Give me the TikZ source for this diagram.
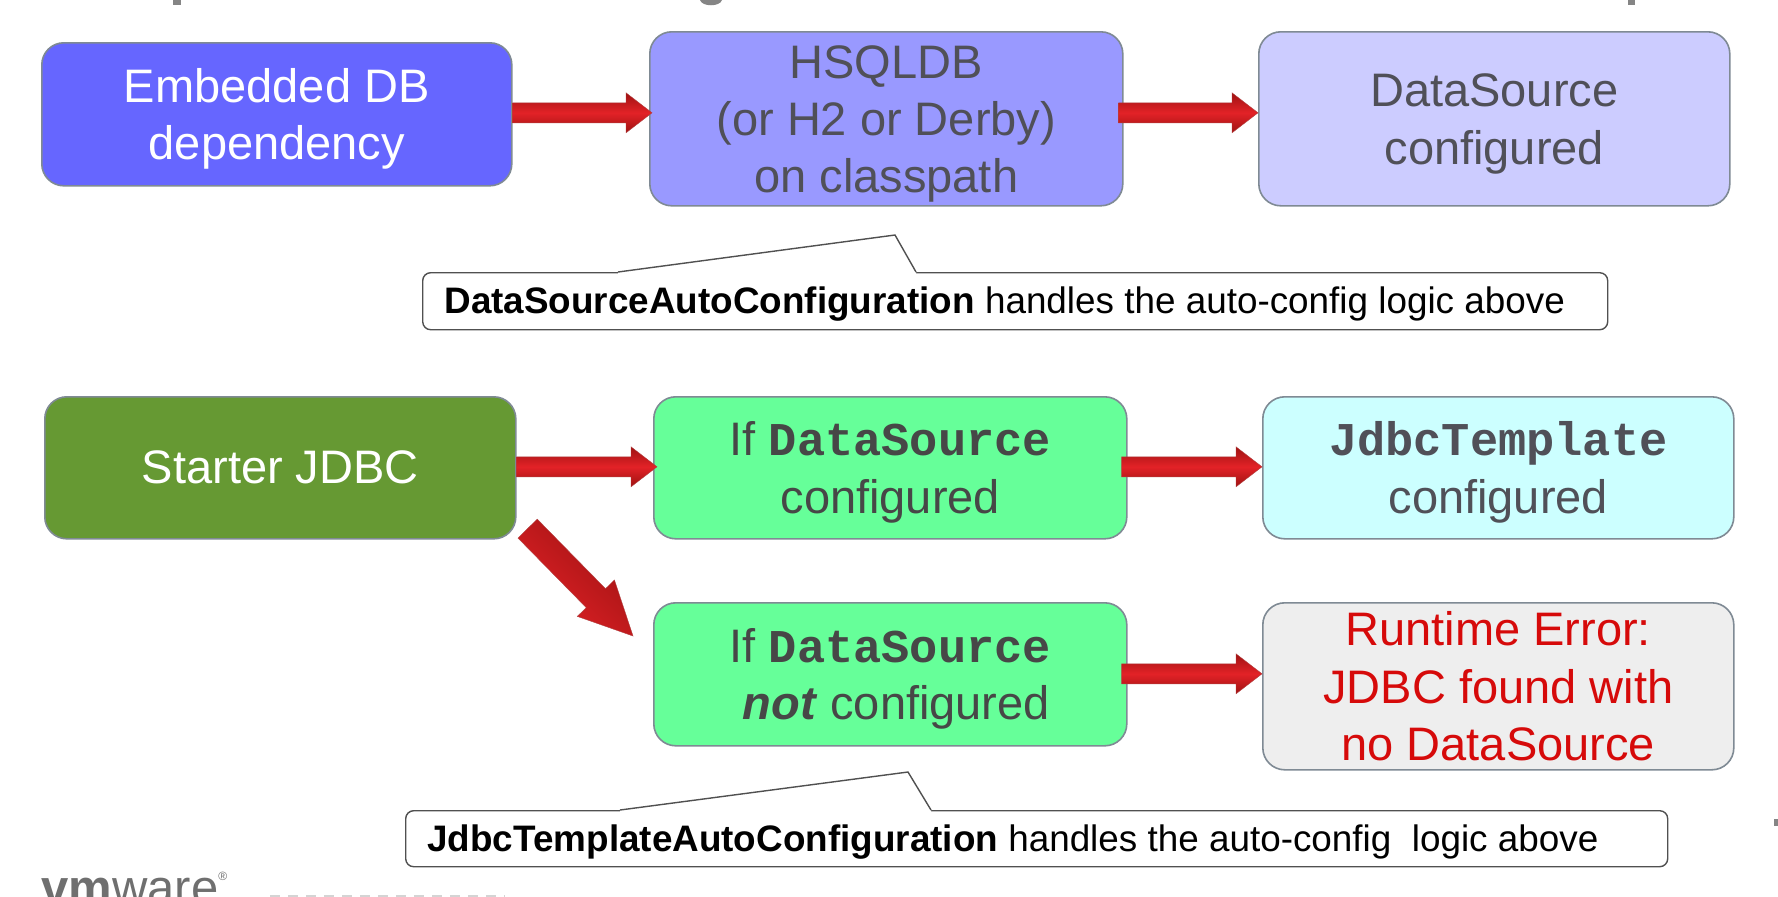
\documentclass[tikz,border=0pt]{standalone}
\usepackage{fontspec}
\setmainfont{Liberation Sans}
\newfontfamily\codefont{Liberation Mono}[BoldFont={Liberation Mono Bold}]
\usetikzlibrary{calc}
\definecolor{boxline}{HTML}{7F8A94}
\definecolor{boxtext}{HTML}{505058}
\definecolor{cA}{HTML}{6666FF}
\definecolor{cB}{HTML}{9999FF}
\definecolor{cC}{HTML}{CCCCFF}
\definecolor{cD}{HTML}{669933}
\definecolor{cE}{HTML}{66FF99}
\definecolor{cF}{HTML}{CCFFFF}
\definecolor{cH}{HTML}{EEEEEE}
\definecolor{errred}{HTML}{D60A0A}
\definecolor{arrowhi}{HTML}{E32227}
\definecolor{arrowlo}{HTML}{9E1212}
\definecolor{logogray}{HTML}{6F6F6F}
\definecolor{calloutline}{HTML}{505050}
\newcommand{\code}[1]{{\codefont\bfseries #1}}
\newcommand{\lowerline}{\rule{0pt}{21.5pt}}
% arrow from #2 to #3, half body #4, half head #5, head length #6, style #1
\newcommand{\redarrow}[6][]{%
  \coordinate (ra) at #2; \coordinate (rb) at #3;
  \coordinate (rh) at ($(rb)!#6*0.5pt!(ra)$);
  \path[#1] ($(ra)!#4*0.5pt!90:(rb)$) -- ($(rh)!#4*0.5pt!90:(rb)$) -- ($(rh)!#5*0.5pt!90:(rb)$)
    -- (rb) -- ($(rh)!#5*0.5pt!-90:(rb)$) -- ($(rh)!#4*0.5pt!-90:(rb)$) -- ($(ra)!#4*0.5pt!-90:(rb)$) -- cycle;}
\tikzset{
  x=0.5pt,y=-0.5pt,
  flowbox/.style={draw=boxline,line width=0.8pt,rounded corners=11pt,inner sep=0pt,align=center,
    text=boxtext,font=\fontsize{23.5}{28.6}\selectfont,anchor=north west},
  calloutbox/.style={draw=calloutline,line width=0.7pt,rounded corners=4pt,fill=white,inner sep=0pt,
    anchor=north west,text=black},
  calloutlabel/.style={font=\fontsize{18.43}{22}\selectfont,anchor=base west,inner sep=0pt,text=black},
  calloutedge/.style={draw=calloutline,line width=0.7pt,line join=miter},
  hshade/.style={line width=0.2pt,draw=arrowlo!80!white,top color=arrowlo,bottom color=arrowlo,middle color=arrowhi},
  dshade/.style={line width=0.2pt,draw=arrowlo!80!white,left color=arrowlo,right color=arrowhi,shading angle=-45},
  fragment/.style={fill=logogray!85},
}
\begin{document}
\begin{tikzpicture}
\useasboundingbox (0,0) rectangle (1778,896);
\begin{scope}
\clip (0,0) rectangle (1778,896);
\fill[white] (0,0) rectangle (1778,896);

% boxes (minimum sizes in 0.5pt units)
\node[flowbox,fill=cA,text=white,minimum width=235pt,minimum height=71.5pt] (a) at (41,42) {\lowerline Embedded DB\\dependency};
\node[flowbox,fill=cB,minimum width=236.5pt,minimum height=87pt] (b) at (649,31) {\lowerline HSQLDB\\(or H2 or Derby)\\on classpath};
\node[flowbox,fill=cC,minimum width=235.5pt,minimum height=87pt] (c) at (1258,31) {\lowerline DataSource\\configured};

\node[flowbox,fill=cD,text=white,minimum width=235.5pt,minimum height=71pt] (d) at (44,396) {Starter JDBC};
\node[flowbox,fill=cE,text=black!72,minimum width=236.5pt,minimum height=71pt] (e) at (653,396) {\lowerline If \code{DataSource}\\configured};
\node[flowbox,fill=cF,minimum width=235.5pt,minimum height=71pt] (f) at (1262,396) {\lowerline\code{JdbcTemplate}\\configured};
\node[flowbox,fill=cE,text=black!72,minimum width=236.5pt,minimum height=71.5pt] (g) at (653,602) {\lowerline If \code{DataSource}\\\hspace*{6pt}\textbf{\textit{not}} configured};
\node[flowbox,fill=cH,text=errred,minimum width=235.5pt,minimum height=83.5pt] (h) at (1262,602) {Runtime Error:\\JDBC found with\\no DataSource};

% callouts
\node[calloutbox,minimum width=592.5pt,minimum height=28.5pt] (c1) at (422,272) {};
\coordinate (c1l) at ($(c1.north west)+(196,0)$);
\coordinate (c1r) at ($(c1.north west)+(494,0)$);
\coordinate (c1a) at ($(c1.north west)+(473,-37)$);
\fill[white] (c1l) -- (c1a) -- (c1r) -- ($(c1r)+(0,2)$) -- ($(c1l)+(0,2)$) -- cycle;
\draw[calloutedge] (c1l) -- (c1a) -- (c1r);
\node[calloutlabel] (c1t) at ($(c1.north west)+(22,41)$) {\textbf{DataSourceAutoConfiguration} handles the auto-config logic above};

\node[calloutbox,minimum width=631pt,minimum height=28pt] (c2) at (405,810) {};
\coordinate (c2l) at ($(c2.north west)+(215,0)$);
\coordinate (c2r) at ($(c2.north west)+(526,0)$);
\coordinate (c2a) at ($(c2.north west)+(503,-38)$);
\fill[white] (c2l) -- (c2a) -- (c2r) -- ($(c2r)+(0,2)$) -- ($(c2l)+(0,2)$) -- cycle;
\draw[calloutedge] (c2l) -- (c2a) -- (c2r);
\node[calloutlabel] (c2t) at ($(c2.north west)+(22,41)$) {\textbf{JdbcTemplateAutoConfiguration} handles the auto-config \ logic above};

% arrows
\redarrow[hshade]{($(a.east)+(0,-1.5)$)}{($(a.east -| b.west)+(3,-1.5)$)}{10}{20}{26}
\redarrow[hshade]{($(b.east)+(-5,-6)$)}{($(b.east -| c.west)+(0,-6)$)}{10}{20}{26}
\redarrow[hshade]{($(d.east)+(0,-1)$)}{($(d.east -| e.west)+(4,-1)$)}{10}{20}{26}
\redarrow[hshade]{($(e.east)+(-6,-1)$)}{($(e.east -| f.west)+(0,-1)$)}{10}{20}{26}
\redarrow[hshade]{($(g.east)+(-6,-0.5)$)}{($(g.east -| h.west)+(0,-0.5)$)}{10}{20}{26}
\redarrow[dshade]{($(d.south east)+(11,-11)$)}{($(g.north west)+(-20,34)$)}{13.5}{26}{53}

% clipped remains at the edges of the slide
\fill[fragment] (173,0) rectangle (181,5);
\fill[fragment] (700,0) .. controls (702,7) and (720,7) .. (722,0) -- cycle;
\fill[fragment] (1628,0) rectangle (1635,5);
\fill[fragment] (1774,819) rectangle (1778,826);
\draw[logogray!30,line width=1pt,dash pattern=on 5pt off 4pt] (270,895.5) -- (505,895.5);
\node[anchor=base west,inner sep=0pt,text=logogray,font=\fontsize{24.5}{26}\selectfont] (logo) at (41,904) {\textbf{vm}ware\raisebox{0.9ex}{\fontsize{6}{6}\selectfont ®}};
\end{scope}
\end{tikzpicture}
\end{document}
